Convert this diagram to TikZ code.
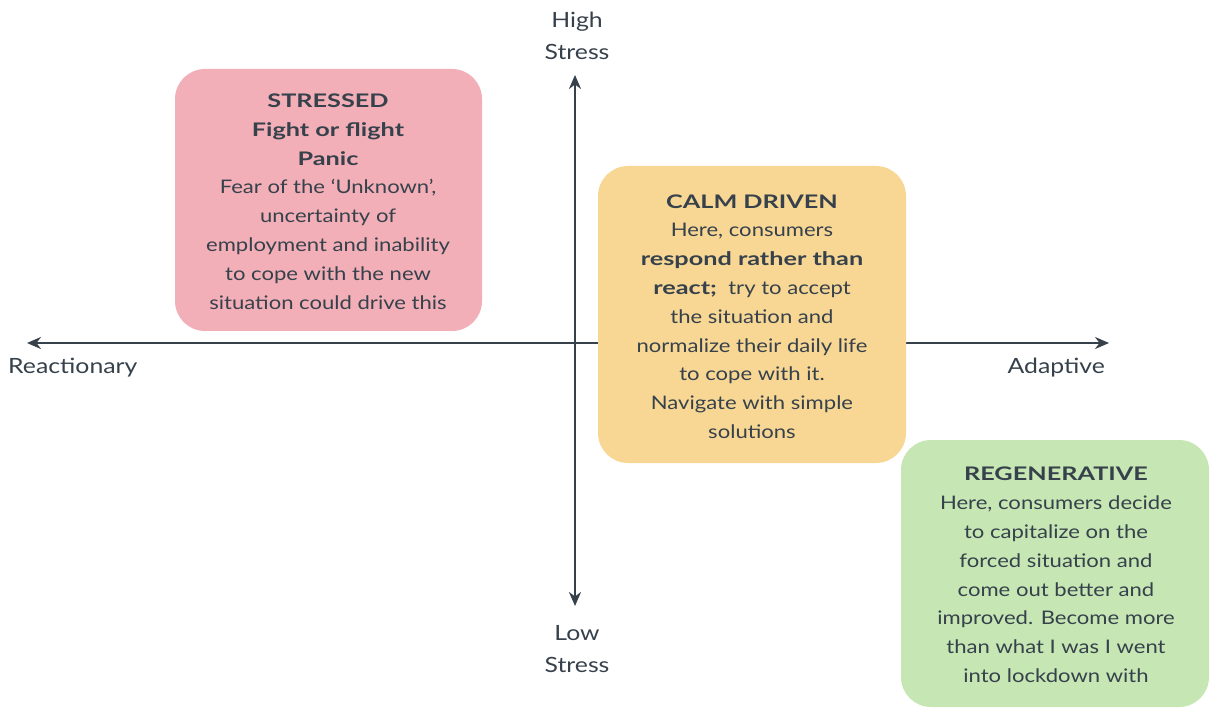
\documentclass[tikz,border=0pt]{standalone}
\usepackage{fontspec}
\setmainfont{Lato}[UprightFeatures={FakeStretch=1.18},BoldFeatures={FakeStretch=1.35}]
\usetikzlibrary{arrows.meta}
\definecolor{ink}{HTML}{36414B}
\definecolor{pinkbox}{HTML}{F2AFB7}
\definecolor{yellowbox}{HTML}{F8D794}
\definecolor{greenbox}{HTML}{C6E6B4}
\begin{document}
\begin{tikzpicture}[x=1pt,y=-1pt,
  every node/.style={text=ink},
  axis/.style={draw=ink, line width=2.2pt, -{Stealth[length=14pt,width=12pt]}},
  lbl/.style={align=center, inner sep=0pt, font=\fontsize{21}{31.5}\selectfont},
  boxtext/.style={align=center, inner sep=0pt, font=\fontsize{18.7}{28.8}\selectfont}]
\useasboundingbox (0,0) rectangle (1210,708);
% axes
\coordinate (c) at (575,343);
\coordinate (top) at (575,75);
\coordinate (bot) at (575,606);
\coordinate (lft) at (27,343);
\coordinate (rgt) at (1109,343);
\draw[axis] (c) -- (top);
\draw[axis] (c) -- (bot);
\draw[axis] (c) -- (lft);
\draw[axis] (c) -- (rgt);
% axis labels
\node[lbl] (hs) at (577,36) {High\\Stress};
\node[lbl] (ls) at (577,649) {Low\\Stress};
\node[lbl, anchor=west] (re) at (8,368) {Reactionary};
\node[lbl, anchor=east] (ad) at (1105,368) {Adaptive};
% boxes
\fill[pinkbox, rounded corners=30pt] (175,69) rectangle (482,331);
\node[boxtext] (st) at (328,201.5) {\textbf{STRESSED}\\\textbf{Fight or flight}\\\textbf{Panic}\\Fear of the ‘Unknown’,\\uncertainty of\\employment and inability\\to cope with the new\\situation could drive this};
\fill[yellowbox, rounded corners=30pt] (598,166) rectangle (906,463);
\node[boxtext] (cd) at (752,316.5) {\textbf{CALM DRIVEN}\\Here, consumers\\\textbf{respond rather than}\\\textbf{react;}\ \ try to accept\\the situation and\\normalize their daily life\\to cope with it.\\Navigate with simple\\solutions};
\fill[greenbox, rounded corners=30pt] (901,440) rectangle (1209,707);
\node[boxtext] (rg) at (1056,575) {\textbf{REGENERATIVE}\\Here, consumers decide\\to capitalize on the\\forced situation and\\come out better and\\improved. Become more\\than what I was I went\\into lockdown with};
\end{tikzpicture}
\end{document}
